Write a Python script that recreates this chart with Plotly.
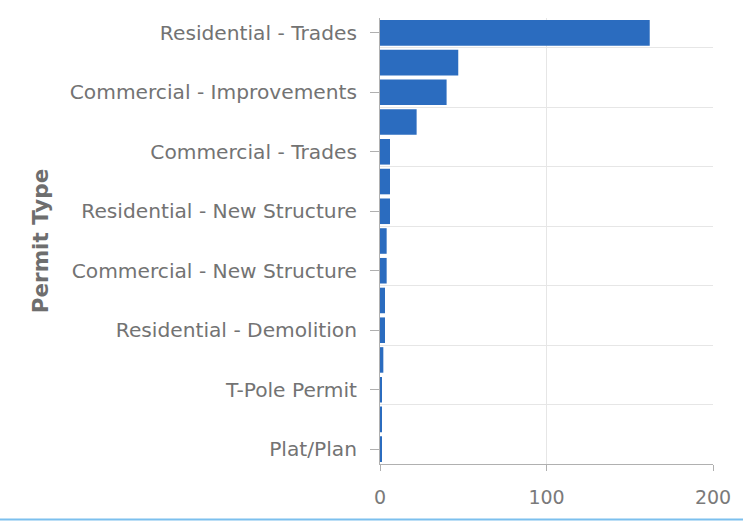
import plotly.graph_objects as go

categories = [
    "Residential - Trades", "cat2", "Commercial - Improvements", "cat4",
    "Commercial - Trades", "cat6", "Residential - New Structure", "cat8",
    "Commercial - New Structure", "cat10", "Residential - Demolition", "cat12",
    "T-Pole Permit", "cat14", "Plat/Plan",
]
counts = [162, 47, 40, 22, 6, 6, 6, 4, 4, 3, 3, 2, 1, 1, 1]
x_ticks = [0, 100, 200]

positions = list(range(len(categories)))
label_positions = positions[::2]
label_texts = categories[::2]
boundaries = [-0.5] + [p + 0.5 for p in positions[::2]][:-1]

font_family = "DejaVu Sans, Verdana, sans-serif"

fig = go.Figure(go.Bar(
    x=counts, y=positions, orientation="h",
    marker=dict(color="#2b6cbf", line=dict(width=0)),
    hovertext=categories,
))

fig.update_layout(
    width=743, height=521,
    margin=dict(l=380, r=30, t=18, b=57),
    paper_bgcolor="white", plot_bgcolor="white",
    bargap=0.14,
    showlegend=False,
    font=dict(family=font_family, color="#737373", size=19),
    shapes=[dict(type="line", xref="paper", yref="paper",
                 x0=-1.2, x1=1.2, y0=-0.1245, y1=-0.1245,
                 line=dict(color="#7cc0ee", width=2))],
)

fig.update_xaxes(
    range=[0, 200], tickvals=x_ticks, ticktext=[str(v) for v in x_ticks],
    showgrid=True, gridcolor="#e6e6e6", gridwidth=1,
    showline=True, linecolor="#b0b0b0", linewidth=1,
    ticks="outside", ticklen=6, tickcolor="#b0b0b0",
    tickfont=dict(size=19, color="#7a7a7a"),
    ticklabelstandoff=10,
    zeroline=False, fixedrange=True,
)

fig.update_yaxes(
    range=[14.5, -0.5], tickvals=label_positions, ticktext=label_texts,
    showgrid=False,
    showline=True, linecolor="#b0b0b0", linewidth=1,
    ticks="outside", ticklen=9, tickcolor="#b0b0b0",
    tickfont=dict(size=20.2, color="#737373"),
    ticklabelstandoff=9,
    minor=dict(tickvals=boundaries, showgrid=True, gridcolor="#e6e6e6",
               gridwidth=1, ticks=""),
    zeroline=False,
    title=dict(text="<b>Permit Type</b>", font=dict(size=21.5, color="#6e6e6e"),
               standoff=15),
)

fig.write_html("out.html", config={"displayModeBar": False},
               post_script="document.body.style.margin='0';")
